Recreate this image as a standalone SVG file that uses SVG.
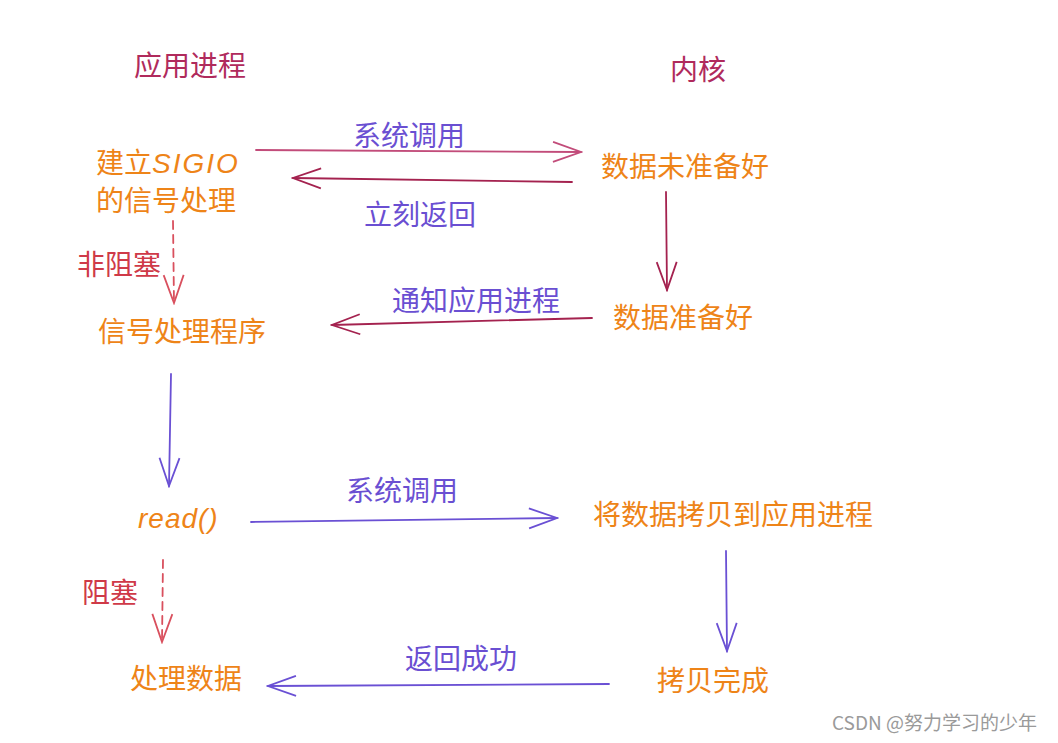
<svg xmlns="http://www.w3.org/2000/svg" width="1058" height="743" viewBox="0 0 1058 743">
<style>
text{font-family:"Noto Sans CJK SC","Liberation Sans",sans-serif;font-size:28px}
.hdr{fill:#b02a5c}
.node{fill:#ee8418}
.lblp{fill:#6a4fd2}
.lblr{fill:#cf3a48}
.wm{fill:#9a9a9a;font-size:19px}
.hand{font-family:"Liberation Sans",sans-serif;font-style:italic}
.c{fill:none;stroke-width:1.8;stroke-linecap:round}
</style>
<defs>
<marker id="mPink" viewBox="-30 -12 32 24" refX="0" refY="0" markerWidth="32" markerHeight="24" markerUnits="userSpaceOnUse" orient="auto"><path d="M-28,-10 L0,0 L-28,10" fill="none" stroke="#c24c7a" stroke-width="1.8"/></marker>
<marker id="mCrim" viewBox="-30 -12 32 24" refX="0" refY="0" markerWidth="32" markerHeight="24" markerUnits="userSpaceOnUse" orient="auto"><path d="M-28,-10 L0,0 L-28,10" fill="none" stroke="#a4224f" stroke-width="1.8"/></marker>
<marker id="mPurp" viewBox="-30 -12 32 24" refX="0" refY="0" markerWidth="32" markerHeight="24" markerUnits="userSpaceOnUse" orient="auto"><path d="M-28,-10 L0,0 L-28,10" fill="none" stroke="#6a50d4" stroke-width="1.8"/></marker>
<marker id="mRed" viewBox="-30 -12 32 24" refX="0" refY="0" markerWidth="32" markerHeight="24" markerUnits="userSpaceOnUse" orient="auto"><path d="M-28,-10 L0,0 L-28,10" fill="none" stroke="#d9505e" stroke-width="1.8"/></marker>
</defs>
<rect width="1058" height="743" fill="#ffffff"/>

<g id="headers">
<text class="hdr" x="134" y="76">应用进程</text>
<text class="hdr" x="670" y="80">内核</text>
</g>

<g id="connectors">
<path class="c" d="M256,150 L581,152" stroke="#c24c7a" marker-end="url(#mPink)"/>
<path class="c" d="M572,182 L293,178" stroke="#a4224f" marker-end="url(#mCrim)"/>
<path class="c" d="M666,192 L667,290" stroke="#a4224f" marker-end="url(#mCrim)"/>
<path class="c" d="M592,318 L332,325" stroke="#a4224f" marker-end="url(#mCrim)"/>
<path class="c" d="M173,221 L174,303" stroke="#d9505e" stroke-dasharray="8 6" marker-end="url(#mRed)"/>
<path class="c" d="M171,374 L169,486" stroke="#6a50d4" marker-end="url(#mPurp)"/>
<path class="c" d="M251,522 L557,518" stroke="#6a50d4" marker-end="url(#mPurp)"/>
<path class="c" d="M726,551 L727,651" stroke="#6a50d4" marker-end="url(#mPurp)"/>
<path class="c" d="M163,560 L162,642" stroke="#d9505e" stroke-dasharray="8 6" marker-end="url(#mRed)"/>
<path class="c" d="M609,684 L268,686" stroke="#6a50d4" marker-end="url(#mPurp)"/>
</g>

<g id="labels">
<text class="lblp" x="353" y="146">系统调用</text>
<text class="lblp" x="364" y="225">立刻返回</text>
<text class="lblp" x="392" y="311">通知应用进程</text>
<text class="lblr" x="77" y="275">非阻塞</text>
<text class="lblp" x="346" y="501">系统调用</text>
<text class="lblr" x="82" y="603">阻塞</text>
<text class="lblp" x="405" y="669">返回成功</text>
</g>

<g id="node-sigio">
<text class="node" x="96" y="173">建立<tspan class="hand" letter-spacing="2">SIGIO</tspan></text>
<text class="node" x="96" y="211">的信号处理</text>
</g>
<g id="node-notready"><text class="node" x="601" y="177">数据未准备好</text></g>
<g id="node-ready"><text class="node" x="613" y="328">数据准备好</text></g>
<g id="node-handler"><text class="node" x="98" y="342">信号处理程序</text></g>
<g id="node-read"><text class="node hand" x="138" y="528" font-size="26" letter-spacing="1">read()</text></g>
<g id="node-copy"><text class="node" x="593" y="525">将数据拷贝到应用进程</text></g>
<g id="node-process"><text class="node" x="130" y="689">处理数据</text></g>
<g id="node-done"><text class="node" x="657" y="691">拷贝完成</text></g>

<text class="wm" x="832" y="730">CSDN @努力学习的少年</text>
</svg>
